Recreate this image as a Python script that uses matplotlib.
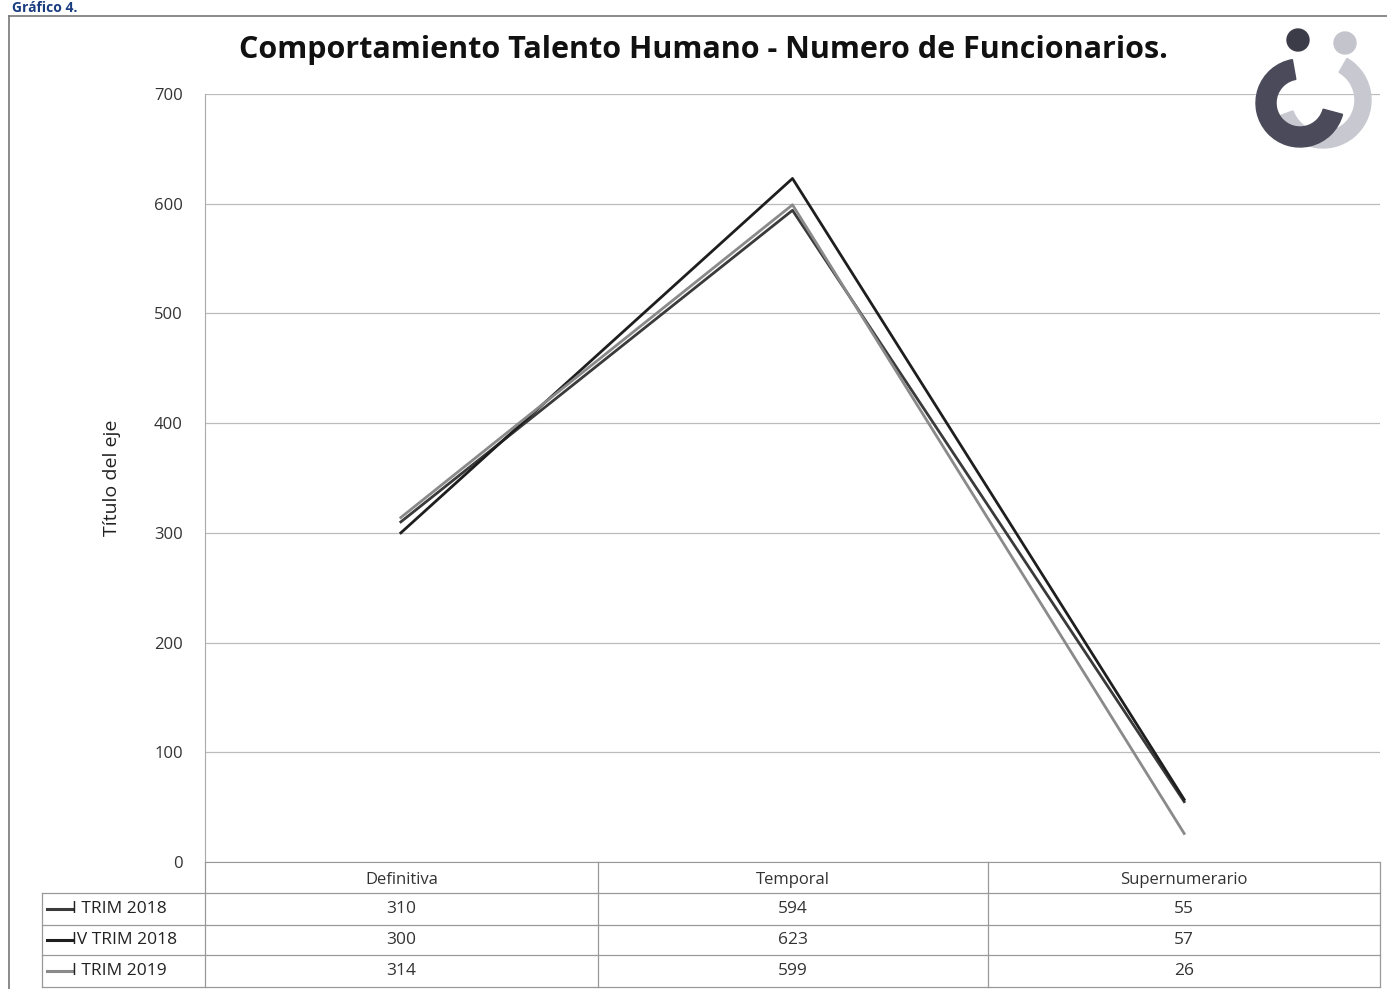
import numpy as np
import matplotlib.pyplot as plt
from matplotlib.lines import Line2D
from matplotlib.patches import Circle, Wedge

# data
categories = ['Definitiva', 'Temporal', 'Supernumerario']
series_names = ['I TRIM 2018', 'IV TRIM 2018', 'I TRIM 2019']
i_trim_2018 = [310, 594, 55]
iv_trim_2018 = [300, 623, 57]
i_trim_2019 = [314, 599, 26]
series_values = [i_trim_2018, iv_trim_2018, i_trim_2019]
series_colors = ['#3a3a3a', '#1e1e1e', '#8a8a8a']
yticks = np.arange(0, 701, 100)

W, H = 1387, 989
fig = plt.figure(figsize=(W / 100, H / 100), dpi=100)
plt.rcParams['font.family'] = ['Open Sans', 'DejaVu Sans']


def fx(px):
    return px / W


def fy(py):
    return 1 - py / H


# outer frame
fig.add_artist(Line2D([fx(9), fx(9)], [fy(16), fy(989)], color='#777777', lw=1.2))
fig.add_artist(Line2D([fx(9), fx(1387)], [fy(16), fy(16)], color='#777777', lw=1.2))
fig.text(fx(12), fy(1), 'Gráfico 4.', fontsize=10, fontweight='bold', color='#1a3d80',
         va='top', ha='left')

left, right, top, bottom = 205, 1380, 94, 862
ax = fig.add_axes([fx(left), fy(bottom), fx(right - left), (bottom - top) / H])
x = np.arange(len(categories))
for vals, name, col in zip(series_values, series_names, series_colors):
    ax.plot(x, vals, color=col, lw=2.0, label=name)

ax.set_xlim(-0.5, 2.5)
ax.set_ylim(0, 700)
ax.set_yticks(yticks)
ax.set_yticklabels([str(v) for v in yticks], fontsize=12, color='#333333')
ax.tick_params(axis='y', length=0, pad=16)
ax.set_xticks([])
ax.grid(axis='y', color='#bbbbbb', lw=0.9)
ax.set_axisbelow(True)
for s in ['top', 'right']:
    ax.spines[s].set_visible(False)
ax.spines['left'].set_color('#aaaaaa')
ax.spines['bottom'].set_color('#999999')
ax.set_ylabel('Título del eje', fontsize=14, color='#222222', labelpad=24)

fig.text(fx(703), fy(50), 'Comportamiento Talento Humano - Numero de Funcionarios.',
         fontsize=22, fontweight='bold', ha='center', va='center', color='#111111')

# data table below the plot
col_edges = [205, 598, 988, 1380]
row_edges = [862, 893, 925, 955, 987]
tcol = '#999999'
for xe in col_edges:
    fig.add_artist(Line2D([fx(xe), fx(xe)], [fy(862), fy(987)], color=tcol, lw=0.9))
fig.add_artist(Line2D([fx(42), fx(42)], [fy(893), fy(987)], color=tcol, lw=0.9))
for ye in row_edges[1:]:
    fig.add_artist(Line2D([fx(42), fx(1380)], [fy(ye), fy(ye)], color=tcol, lw=0.9))

for j, cat in enumerate(categories):
    cx = (col_edges[j] + col_edges[j + 1]) / 2
    fig.text(fx(cx), fy((row_edges[0] + row_edges[1]) / 2 + 2), cat, fontsize=12,
             ha='center', va='center', color='#333333')
for i, (vals, name, col) in enumerate(zip(series_values, series_names, series_colors)):
    cy = (row_edges[i + 1] + row_edges[i + 2]) / 2
    fig.add_artist(Line2D([fx(47), fx(72)], [fy(cy), fy(cy)], color=col, lw=2.2))
    fig.text(fx(72), fy(cy), name, fontsize=12.5, ha='left', va='center', color='#222222')
    for j, v in enumerate(vals):
        cx = (col_edges[j] + col_edges[j + 1]) / 2
        fig.text(fx(cx), fy(cy), str(v), fontsize=12.5, ha='center', va='center',
                 color='#333333')

# rough logo top right
lax = fig.add_axes([fx(1245), fy(155), fx(130), 130 / H])
lax.set_xlim(0, 130)
lax.set_ylim(0, 130)
lax.set_aspect('equal')
lax.axis('off')
lax.add_patch(Wedge((78, 55), 48, 200, 60, width=16, color='#c8c8d0'))
lax.add_patch(Wedge((55, 52), 44, 100, 345, width=20, color='#4a4a5a'))
lax.add_patch(Circle((53, 115), 11, color='#3c3c48'))
lax.add_patch(Circle((100, 112), 11, color='#c4c4cc'))

plt.savefig('out.png', dpi=100)
